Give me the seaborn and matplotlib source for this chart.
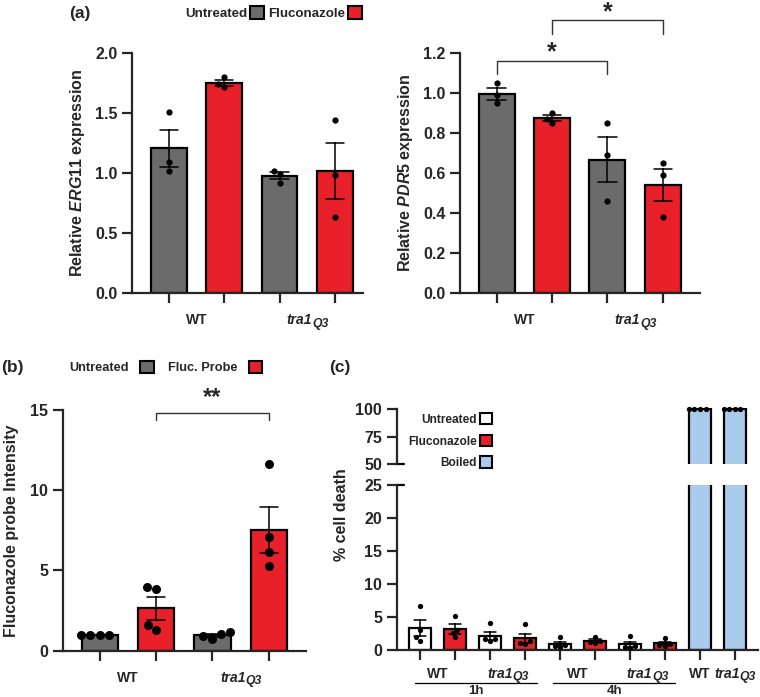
import matplotlib
matplotlib.use("Agg")
import matplotlib.pyplot as plt
import numpy as np
import pandas as pd
import seaborn as sns
from matplotlib.patches import Patch

GRAY = "#6b6b6b"
RED = "#e8202a"
BLUE = "#a9cbec"

# (a) qPCR, three replicates per bar
qpcr_conditions = ["WT untreated", "WT fluconazole", "tra1Q3 untreated", "tra1Q3 fluconazole"]
qpcr_treatments = ["Untreated", "Fluconazole", "Untreated", "Fluconazole"]
erg11 = [[1.51, 1.09, 1.02], [1.80, 1.74, 1.72], [1.02, 0.99, 0.92], [1.44, 0.98, 0.63]]
pdr5 = [[1.05, 0.99, 0.95], [0.90, 0.87, 0.85], [0.85, 0.69, 0.46], [0.65, 0.59, 0.38]]
strain_labels = ["WT", "tra1Q3"]
strain_pos = [0.5, 2.5]

# (b) fluconazole probe, four replicates per bar
probe_conditions = ["WT untreated", "WT probe", "tra1Q3 untreated", "tra1Q3 probe"]
probe_treatments = ["Untreated", "Fluc. Probe", "Untreated", "Fluc. Probe"]
probe = [[1.0, 1.0, 1.0, 1.0], [3.82, 3.97, 1.27, 1.58],
         [0.75, 0.90, 1.05, 1.18], [11.66, 7.06, 6.13, 5.28]]

# (c) % cell death
death_conditions = ["1h WT U", "1h WT F", "1h tra U", "1h tra F",
                    "4h WT U", "4h WT F", "4h tra U", "4h tra F",
                    "Boiled WT", "Boiled tra"]
death_treatments = ["Untreated", "Fluconazole"] * 4 + ["Boiled", "Boiled"]
death = [[6.7, 3.05, 2.0, 1.4], [5.15, 3.02, 2.63, 1.92], [4.05, 1.65, 1.6, 1.4], [3.94, 1.3, 1.0, 0.84],
         [1.9, 0.8, 0.55, 0.4], [2.0, 1.4, 1.25, 1.0], [2.1, 0.6, 0.45, 0.3], [1.8, 0.95, 0.7, 0.6],
         [100, 100, 100, 100], [100, 100, 100, 100]]
death_labels = ["WT", "tra1Q3", "WT", "tra1Q3", "WT", "tra1Q3"]
death_label_pos = [0.5, 2.5, 4.5, 6.5, 8, 9]
time_groups = ["1h", "4h"]
time_spans = [(-0.14, 3.34), (3.8, 7.29)]


def long_frame(conditions, treatments, values):
    rows = [(c, t, v) for c, t, vals in zip(conditions, treatments, values) for v in vals]
    return pd.DataFrame(rows, columns=["condition", "treatment", "value"])


def draw_bars(ax, df, order, palette, dot_size, width=0.65, capsize=0.33):
    sns.barplot(data=df, x="condition", y="value", hue="treatment", order=order, palette=palette,
                dodge=False, errorbar="se", capsize=capsize, width=width, edgecolor="black",
                linewidth=1.6, saturation=1, err_kws={"color": "black", "linewidth": 1.1},
                legend=False, ax=ax)
    sns.swarmplot(data=df, x="condition", y="value", order=order, color="black", size=dot_size, ax=ax)


def style_axis(ax, xlim, ylim, yticks, fmt):
    ax.set_xlim(*xlim)
    ax.set_ylim(*ylim)
    ax.set_yticks(yticks, [fmt.format(t) for t in yticks])
    sns.despine(ax=ax)
    for side in ["left", "bottom"]:
        ax.spines[side].set_linewidth(1.6)
    ax.tick_params(axis="both", which="major", width=1.6, length=7, labelsize=11.5)
    ax.set_xlabel("")


def x_groups(ax, n, positions, labels, drop=14.5, size=10):
    # tick marks under every bar, strain names between pairs (tra1 italic with a Q3 subscript)
    ax.set_xticks(range(n), [""] * n)
    trans = ax.get_xaxis_transform()
    for pos, lab in zip(positions, labels):
        if lab == "WT":
            ax.annotate(lab, (pos, 0), xycoords=trans, xytext=(0, -drop), textcoords="offset points",
                        ha="center", va="top", fontsize=size, annotation_clip=False)
        else:
            ax.annotate("tra1", (pos, 0), xycoords=trans, xytext=(3.5, -drop), textcoords="offset points",
                        ha="right", va="top", fontsize=size, fontstyle="italic", annotation_clip=False)
            ax.annotate("Q3", (pos, 0), xycoords=trans, xytext=(3.5, -drop - 3.2),
                        textcoords="offset points", ha="left", va="top", fontsize=size * 0.88,
                        fontstyle="italic", annotation_clip=False)


def bracket(ax, x0, x1, y, drop, text, ytext, size=18):
    ax.plot([x0, x0, x1, x1], [y - drop, y, y, y - drop], color="#333333", lw=1.0, clip_on=False)
    ax.text((x0 + x1) / 2, ytext, text, ha="center", va="center", fontsize=size, fontweight="bold")


def box_legend(labels, colors, anchor, loc="center", **kw):
    handles = [Patch(facecolor=c, edgecolor="black", lw=1.5, label=l) for l, c in zip(labels, colors)]
    fig.legend(handles=handles, loc=loc, bbox_to_anchor=anchor, frameon=False, markerfirst=False,
               handlelength=1.05, handleheight=1.05, **kw)


sns.set_theme(style="ticks")
plt.rcParams["font.family"] = ["Liberation Sans", "DejaVu Sans"]
plt.rcParams["font.weight"] = "bold"
plt.rcParams["axes.labelweight"] = "bold"
plt.rcParams["mathtext.fontset"] = "custom"
plt.rcParams["mathtext.it"] = "Liberation Sans:italic:bold"
plt.rcParams["mathtext.rm"] = "Liberation Sans:bold"
plt.rcParams["mathtext.bf"] = "Liberation Sans:bold"

fig = plt.figure(figsize=(7.6, 6.97), dpi=100)

# ---- (a) left: ERG11
ax1 = fig.add_axes([0.1737, 0.5796, 0.3039, 0.3443])
df = long_frame(qpcr_conditions, qpcr_treatments, erg11)
draw_bars(ax1, df, qpcr_conditions, {"Untreated": GRAY, "Fluconazole": RED}, 4.5)
style_axis(ax1, (-0.67, 3.51), (0, 2.0), [0, 0.5, 1.0, 1.5, 2.0], "{:.1f}")
x_groups(ax1, 4, strain_pos, strain_labels)
ax1.set_ylabel(r"Relative $\mathit{ERG11}$ expression", fontsize=11.5, labelpad=6)

# ---- (a) right: PDR5
ax2 = fig.add_axes([0.6053, 0.5796, 0.3158, 0.3443])
df = long_frame(qpcr_conditions, qpcr_treatments, pdr5)
draw_bars(ax2, df, qpcr_conditions, {"Untreated": GRAY, "Fluconazole": RED}, 4.5)
style_axis(ax2, (-0.66, 3.67), (0, 1.2), [0, 0.2, 0.4, 0.6, 0.8, 1.0, 1.2], "{:.1f}")
x_groups(ax2, 4, strain_pos, strain_labels)
ax2.set_ylabel(r"Relative $\mathit{PDR5}$ expression", fontsize=11.5, labelpad=6)
bracket(ax2, 0, 2, 1.162, 0.065, "*", 1.205)
bracket(ax2, 1, 3, 1.366, 0.07, "*", 1.405)

box_legend(["Untreated", "Fluconazole"], [GRAY, RED], (0.36, 0.981), ncol=2,
           handletextpad=0.2, columnspacing=0.35, fontsize=9.6)
fig.text(0.105, 0.981, "(a)", ha="center", va="center", fontsize=12.5, fontweight="bold")

# ---- (b) probe intensity
ax3 = fig.add_axes([0.0825, 0.0664, 0.3201, 0.3454])
df = long_frame(probe_conditions, probe_treatments, probe)
draw_bars(ax3, df, probe_conditions, {"Untreated": GRAY, "Fluc. Probe": RED}, 6.5)
style_axis(ax3, (-0.66, 3.66), (0, 15), [0, 5, 10, 15], "{:d}")
x_groups(ax3, 4, strain_pos, strain_labels)
ax3.set_ylabel("Fluconazole probe Intensity", fontsize=11.5, labelpad=8)
bracket(ax3, 1, 3, 14.79, 0.42, "**", 15.75, size=17)

box_legend(["Untreated", "Fluc. Probe"], [GRAY, RED], (0.218, 0.473), ncol=2,
           handletextpad=0.9, columnspacing=1.1, fontsize=9.2)
fig.text(0.016, 0.473, "(b)", ha="center", va="center", fontsize=12.5, fontweight="bold")

# ---- (c) cell death, broken y axis
death_palette = {"Untreated": "white", "Fluconazole": RED, "Boiled": BLUE}
df = long_frame(death_conditions, death_treatments, death)
ax4 = fig.add_axes([0.522, 0.0674, 0.4754, 0.2367])
draw_bars(ax4, df, death_conditions, death_palette, 3.8, width=0.62, capsize=0.33)
style_axis(ax4, (-0.67, 9.66), (0, 25), [0, 5, 10, 15, 20, 25], "{:d}")
x_groups(ax4, 10, death_label_pos, death_labels, drop=12)
ax4.set_ylabel("")
ax4.plot([0, 0.02], [1, 1], transform=ax4.transAxes, color="black", lw=1.6, clip_on=False)

ax5 = fig.add_axes([0.522, 0.3339, 0.4754, 0.0802])
boiled = df[df["treatment"] == "Boiled"]
draw_bars(ax5, boiled, death_conditions, death_palette, 3.8, width=0.62, capsize=0.33)
style_axis(ax5, (-0.67, 9.66), (50, 100.8), [50, 75, 100], "{:d}")
ax5.spines["bottom"].set_visible(False)
ax5.spines["left"].set_bounds(50, 100)
ax5.set_xticks([])
ax5.set_ylabel("")
ax5.plot([0, 0.02], [50, 50], transform=ax5.get_yaxis_transform(), color="black", lw=1.6, clip_on=False)
for coll in ax5.collections:
    coll.set_clip_on(False)

trans = ax4.get_xaxis_transform()
for name, (x0, x1) in zip(time_groups, time_spans):
    ax4.plot([x0, x1], [-0.2, -0.2], transform=trans, color="black", lw=0.9, clip_on=False)
    ax4.text((x0 + x1) / 2, -0.212, name, transform=trans, ha="center", va="top", fontsize=9.5)

fig.text(0.4496, 0.261, "% cell death", rotation=90, ha="center", va="center", fontsize=11.5)
box_legend(["Untreated", "Fluconazole", "Boiled"], ["white", RED, BLUE], (0.662, 0.367),
           loc="center right", handletextpad=0.25, labelspacing=0.75, fontsize=8.6)
fig.text(0.447, 0.473, "(c)", ha="center", va="center", fontsize=12.5, fontweight="bold")

fig.savefig("out.png", dpi=100)
